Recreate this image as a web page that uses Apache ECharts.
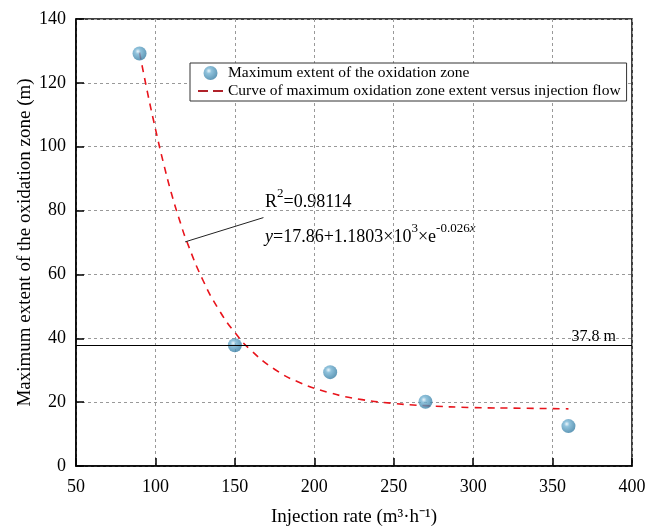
<!DOCTYPE html>
<html><head><meta charset="utf-8">
<script src="https://cdn.jsdelivr.net/npm/echarts@6/dist/echarts.min.js"></script>
<style>html,body{margin:0;padding:0;background:#fff}#c{width:664px;height:532px}</style>
</head><body><div id="c"></div>
<script>
const injection = [90, 150, 210, 270, 360];
const maxExtent = [129.2, 37.8, 29.4, 20.1, 12.5];
const curveX = [90, 95, 100, 105, 110, 115, 120, 130, 140, 150, 160, 175, 190, 210, 230, 250, 270, 300, 330, 360];
const curveY = [129.5, 117, 105.6, 95, 85.5, 77.3, 70, 58.1, 48.9, 41.8, 36.3, 30.3, 26.3, 22.9, 20.8, 19.6, 18.9, 18.3, 18.1, 17.9];
const refValue = 37.8;
const xTicks = {min: 50, max: 400, interval: 50};
const yTicks = {min: 0, max: 140, interval: 20};

const font = 'Liberation Serif';
const chart = echarts.init(document.getElementById('c'));
const sphere = {
  type: 'radial', x: 0.38, y: 0.35, r: 0.65,
  colorStops: [{offset: 0, color: '#e8f4fa'}, {offset: 0.3, color: '#74b3d3'}, {offset: 1, color: '#3a80a6'}]
};
const dashIcon = 'path://M0,0h0.01v0.01h-0.01z M0,6h10v2h-10z M15,6h10v2h-10z M24.99,13.99h0.01v0.01h-0.01z';
const eqRich = {
  n: {fontSize: 18, fontFamily: font, lineHeight: 24, verticalAlign: 'bottom', color: '#000'},
  i: {fontSize: 18, fontFamily: font, fontStyle: 'italic', lineHeight: 24, verticalAlign: 'bottom', color: '#000'},
  s: {fontSize: 13, fontFamily: font, lineHeight: 20, verticalAlign: 'top', color: '#000'},
  si: {fontSize: 13, fontFamily: font, fontStyle: 'italic', lineHeight: 20, verticalAlign: 'top', color: '#000'}
};
chart.setOption({
  animation: false,
  grid: {left: 76, right: 32, top: 19, bottom: 64, show: true, borderColor: '#000', borderWidth: 1.5, backgroundColor: 'transparent'},
  legend: {
    left: 190, top: 63, orient: 'vertical', itemGap: 2, padding: [2, 6, 2, 8],
    borderColor: '#333', borderWidth: 1, backgroundColor: '#fff',
    itemWidth: 25, itemHeight: 14,
    textStyle: {fontFamily: font, fontSize: 15.5, color: '#000'},
    data: [
      {name: 'Maximum extent of the oxidation zone', icon: 'circle'},
      {name: 'Curve of maximum oxidation zone extent versus injection flow', icon: dashIcon, itemStyle: {color: '#b0222a'}}
    ]
  },
  xAxis: {
    type: 'value', min: xTicks.min, max: xTicks.max, interval: xTicks.interval,
    name: 'Injection rate (m³·h⁻¹)', nameLocation: 'middle', nameGap: 42, nameMoveOverlap: false,
    nameTextStyle: {fontFamily: font, fontSize: 19, color: '#000'},
    axisLine: {lineStyle: {color: '#000', width: 1.5}},
    axisTick: {inside: true, length: 8, lineStyle: {color: '#000', width: 1.5}},
    axisLabel: {fontFamily: font, fontSize: 18, color: '#000', margin: 12},
    splitLine: {show: true, lineStyle: {color: '#999', type: [3, 3], width: 1}}
  },
  yAxis: {
    type: 'value', min: yTicks.min, max: yTicks.max, interval: yTicks.interval,
    name: 'Maximum extent of the oxidation zone (m)', nameLocation: 'middle', nameGap: 41, nameMoveOverlap: false,
    nameTextStyle: {fontFamily: font, fontSize: 19, color: '#000'},
    axisLine: {lineStyle: {color: '#000', width: 1.5}},
    axisTick: {inside: true, length: 8, lineStyle: {color: '#000', width: 1.5}},
    axisLabel: {fontFamily: font, fontSize: 18, color: '#000', margin: 10},
    splitLine: {show: true, lineStyle: {color: '#999', type: [3, 3], width: 1}}
  },
  series: [
    {
      name: 'Curve of maximum oxidation zone extent versus injection flow',
      type: 'line', smooth: true, symbol: 'none', z: 3,
      data: curveX.map((x, i) => [x, curveY[i]]),
      lineStyle: {color: '#e8141c', width: 1.6, type: [7, 6]},
      itemStyle: {color: '#e8141c'},
      markLine: {
        silent: true, symbol: 'none',
        lineStyle: {color: '#222', type: 'solid', width: 1},
        label: {show: false},
        data: [[{coord: [118.7, 70.2]}, {coord: [168, 77.8]}]]
      }
    },
    {
      name: 'Maximum extent of the oxidation zone',
      type: 'scatter', symbol: 'circle', symbolSize: 14, z: 4,
      data: injection.map((x, i) => [x, maxExtent[i]]),
      itemStyle: {color: sphere},
      markLine: {
        silent: true, symbol: 'none',
        lineStyle: {color: '#000', type: 'solid', width: 1},
        label: {show: true, position: 'insideEndTop', formatter: '37.8 m', fontFamily: font, fontSize: 16, color: '#000', distance: [16, 1]},
        data: [{yAxis: refValue}]
      }
    }
  ],
  graphic: [
    {type: 'text', left: 265, top: 187, style: {
      text: '{n|R}{s|2}{n|=0.98114}', rich: eqRich
    }},
    {type: 'text', left: 265, top: 222, style: {
      text: '{i|y}{n|=17.86+1.1803×10}{s|3}{n|×e}{s|-0.026}{si|x}', rich: eqRich
    }}
  ]
});
</script></body></html>
